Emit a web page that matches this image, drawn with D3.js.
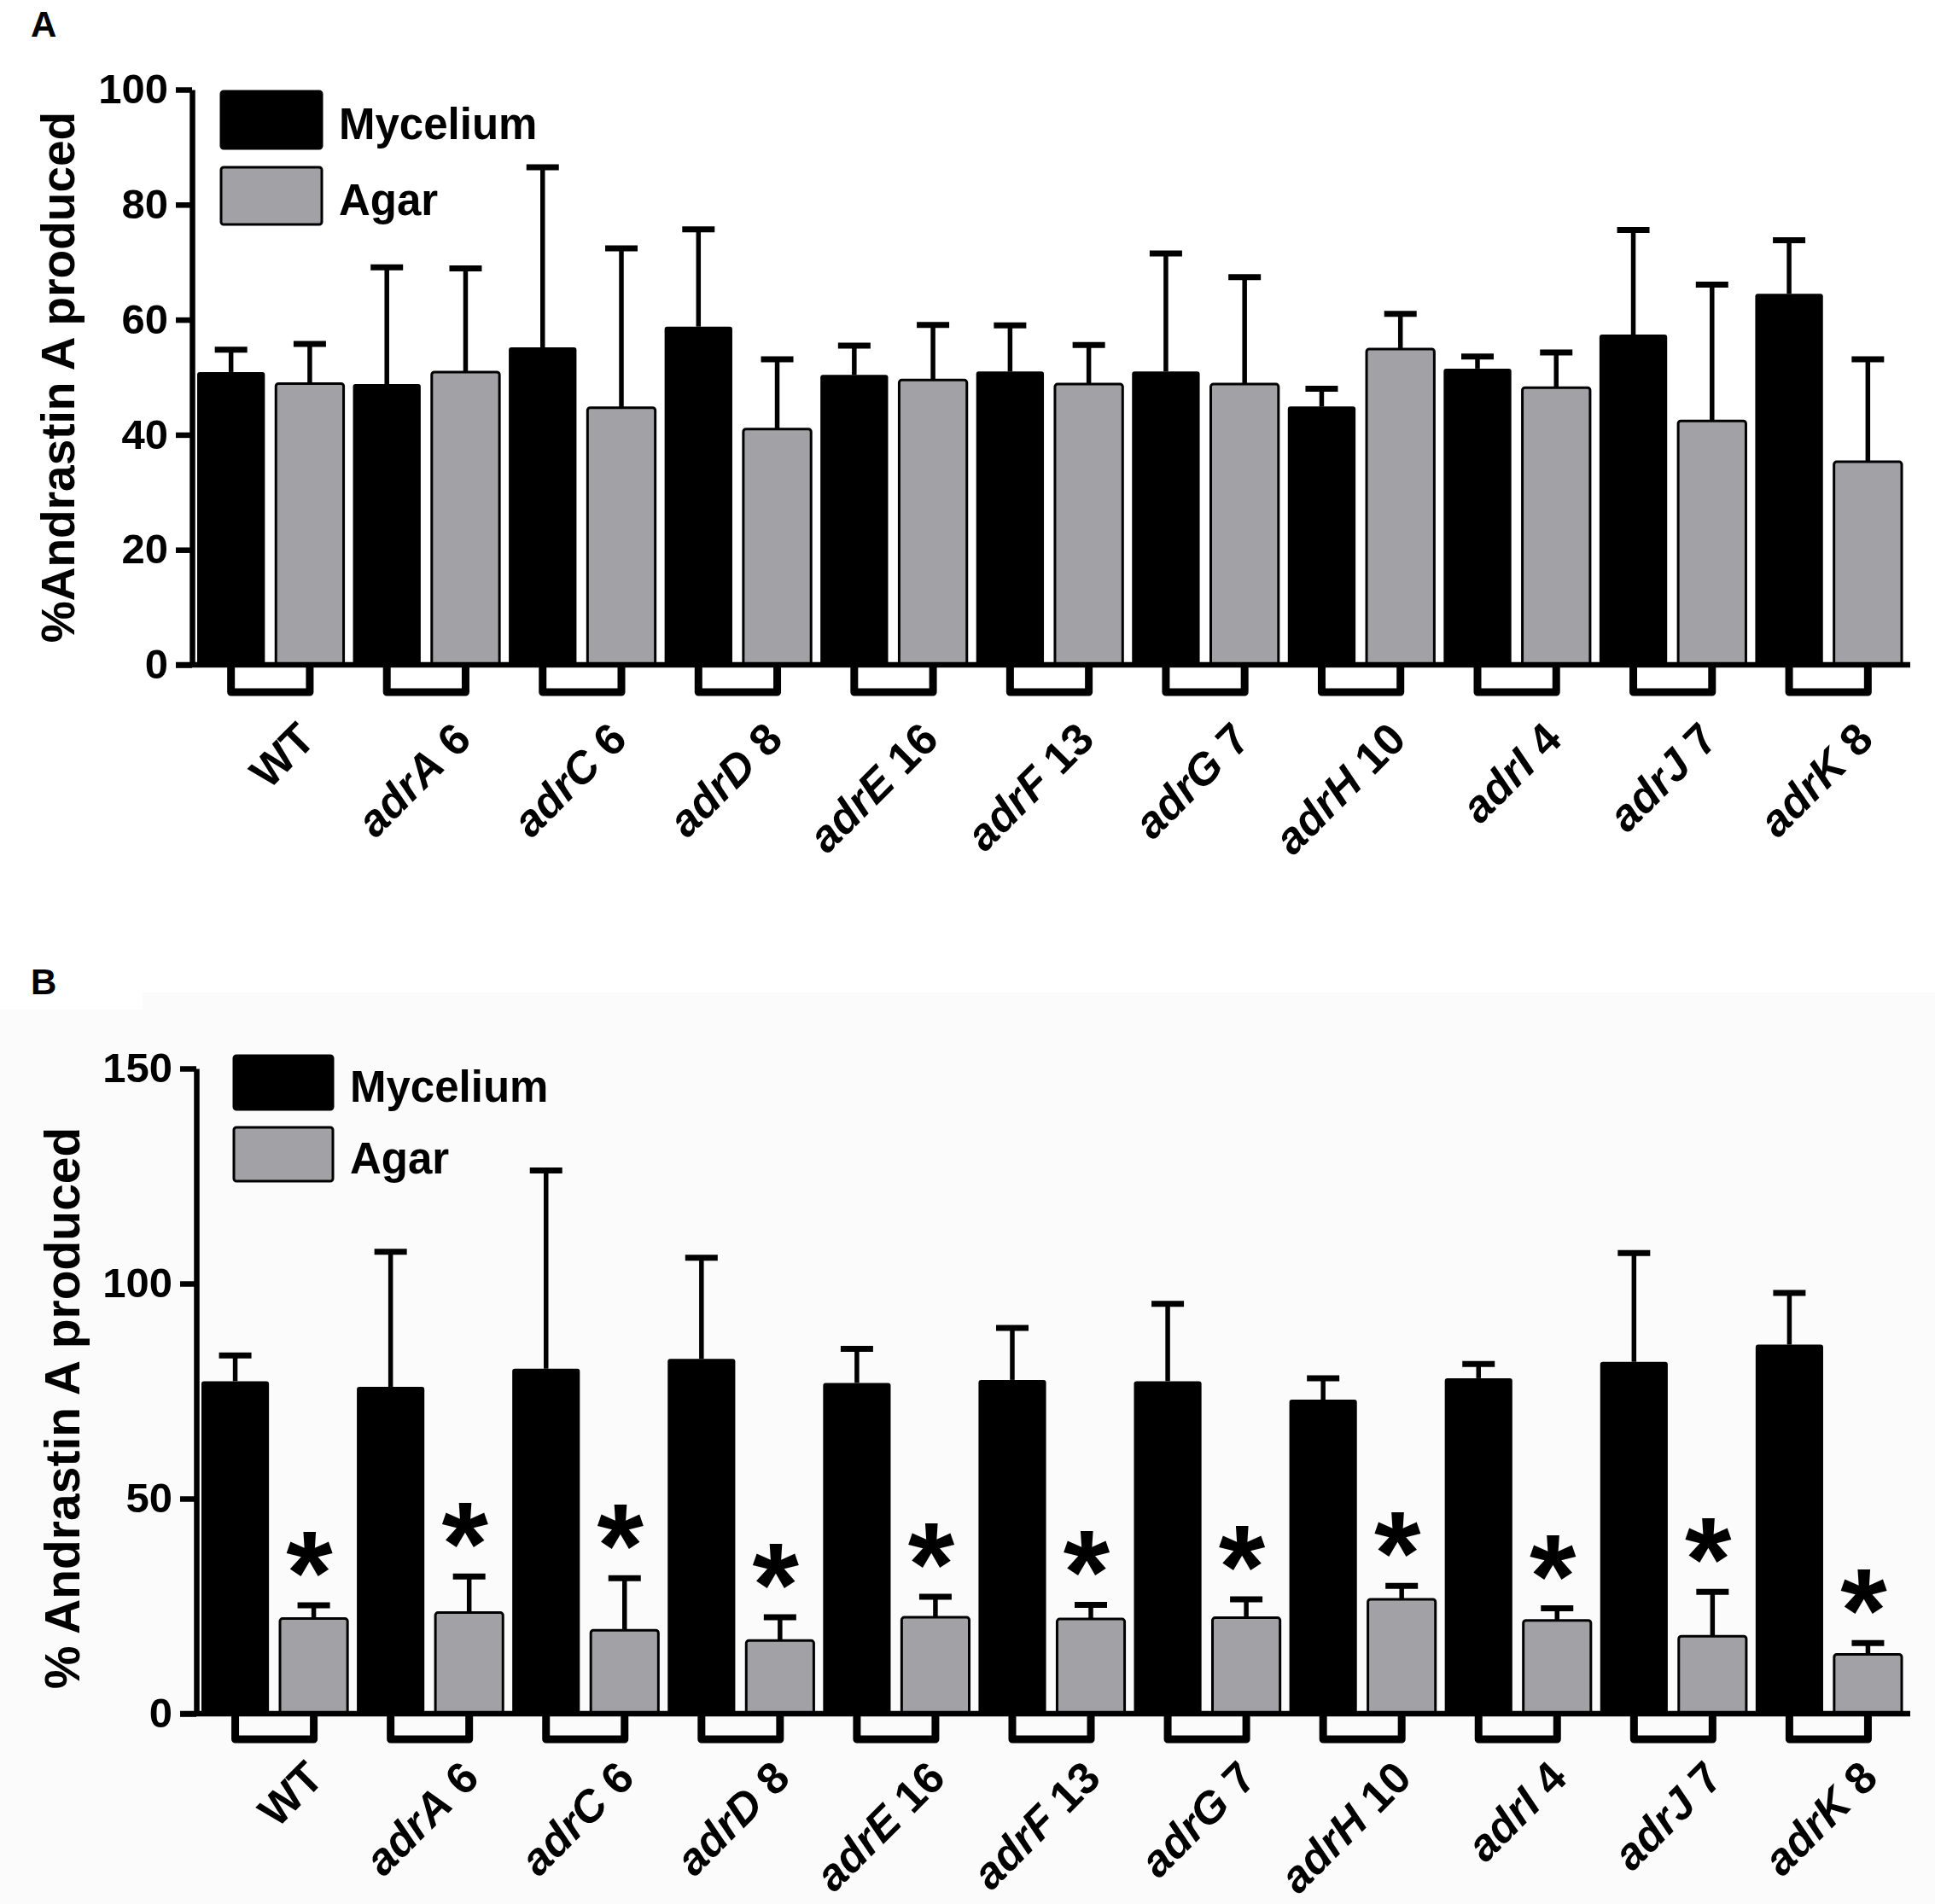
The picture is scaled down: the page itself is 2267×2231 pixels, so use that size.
<!DOCTYPE html>
<html>
<head>
<meta charset="utf-8">
<script src="https://cdn.jsdelivr.net/npm/d3@7"></script>
<style>
  body { margin: 0; background: #fff; }
  svg { display: block; font-family: "Liberation Sans", Arial, Helvetica, sans-serif; font-weight: bold; }
</style>
</head>
<body>
<div id="chart"></div>
<script>
// strain names: italic gene part + plain number part
const genes = ["WT", "adrA", "adrC", "adrD", "adrE", "adrF", "adrG", "adrH", "adrI", "adrJ", "adrK"];
const strainNums = ["", "6", "6", "8", "16", "13", "7", "10", "4", "7", "8"];
const series = ["Mycelium", "Agar"];

// panel A values (mean and upper SD)
const myceliumA = [50.9, 48.8, 55.2, 58.8, 50.4, 51.0, 51.0, 44.9, 51.5, 57.4, 64.5];
const myceliumAErr = [3.9, 20.3, 31.3, 16.9, 5.1, 8.0, 20.5, 3.1, 2.1, 18.2, 9.3];
const agarA = [48.9, 50.9, 44.7, 41.0, 49.5, 48.8, 48.8, 54.9, 48.2, 42.4, 35.3];
const agarAErr = [6.9, 18.0, 27.7, 12.1, 9.6, 6.8, 18.6, 6.1, 6.1, 23.7, 17.8];
const ticksA = [0, 20, 40, 60, 80, 100];

// panel B values
const myceliumB = [77.3, 76.0, 80.2, 82.5, 76.9, 77.6, 77.3, 73.0, 78.0, 81.8, 85.8];
const myceliumBErr = [6.0, 31.4, 46.1, 23.5, 7.9, 12.1, 18.0, 5.0, 3.3, 25.3, 12.0];
const agarB = [22.1, 23.5, 19.4, 17.0, 22.4, 22.0, 22.3, 26.6, 21.7, 18.0, 13.8];
const agarBErr = [3.1, 8.4, 12.1, 5.4, 4.8, 3.3, 4.3, 3.1, 2.8, 10.3, 2.6];
const ticksB = [0, 50, 100, 150];

const W = 2267, H = 2231;
const svg = d3.select("#chart").append("svg").attr("width", W).attr("height", H);

// faint grey backdrop behind panel B
svg.append("path")
    .attr("d", "M167,1163H2267V2231H0V1183H167Z")
    .attr("fill", "#fbfbfb");

function drawPanel(p) {
    const g = svg.append("g");

    // panel letter
    g.append("text")
        .attr("x", p.letterX).attr("y", p.letterY)
        .attr("font-size", 42)
        .text(p.letter);

    const y = d3.scaleLinear().domain(p.yDomain).range(p.yRange);
    const x0 = d3.scaleBand().domain(genes).range(p.xRange).paddingInner(0.06);
    const x1 = d3.scaleBand().domain(series).range([0, x0.bandwidth()]).paddingInner(0.14);

    const rows = genes.map((gname, i) => ({
        gene: gname,
        num: strainNums[i],
        vals: [
            { key: "Mycelium", mean: p.myc[i], err: p.mycErr[i] },
            { key: "Agar", mean: p.agar[i], err: p.agarErr[i] }
        ]
    }));

    const grp = g.selectAll("g.grp")
        .data(rows)
        .enter()
        .append("g")
        .attr("class", "grp")
        .attr("transform", d => `translate(${x0(d.gene)},0)`);

    // error bars (upper only) drawn first so bars sit on top of the stem
    const eb = grp.selectAll("g.err")
        .data(d => d.vals)
        .enter()
        .append("g")
        .attr("class", "err");
    eb.append("line")
        .attr("x1", d => x1(d.key) + x1.bandwidth() / 2)
        .attr("x2", d => x1(d.key) + x1.bandwidth() / 2)
        .attr("y1", d => y(d.mean))
        .attr("y2", d => y(d.mean + d.err))
        .attr("stroke", "#000").attr("stroke-width", 5.5);
    eb.append("line")
        .attr("x1", d => x1(d.key) + x1.bandwidth() / 2 - 19)
        .attr("x2", d => x1(d.key) + x1.bandwidth() / 2 + 19)
        .attr("y1", d => y(d.mean + d.err))
        .attr("y2", d => y(d.mean + d.err))
        .attr("stroke", "#000").attr("stroke-width", 7);

    // bars
    grp.selectAll("rect")
        .data(d => d.vals)
        .enter()
        .append("rect")
        .attr("x", d => x1(d.key))
        .attr("y", d => y(d.mean))
        .attr("width", x1.bandwidth())
        .attr("height", d => y(0) - y(d.mean))
        .attr("rx", 3)
        .attr("fill", d => d.key === "Mycelium" ? "#000" : "#a2a2a6")
        .attr("stroke", "#000")
        .attr("stroke-width", d => d.key === "Mycelium" ? 0 : 3);

    // significance stars over agar bars
    if (p.stars) {
        grp.append("text")
            .attr("x", x1("Agar") + x1.bandwidth() / 2 - 5)
            .attr("y", d => y(d.vals[1].mean + d.vals[1].err) + 10)
            .attr("text-anchor", "middle")
            .attr("font-size", 140)
            .text("*");
    }

    // bracket under each pair (GraphPad style)
    const bx1 = x1("Mycelium") + x1.bandwidth() / 2;
    const bx2 = x1("Agar") + x1.bandwidth() / 2;
    const by0 = y(0), by1 = y(0) + p.bracketDepth;
    grp.append("path")
        .attr("d", `M${bx1},${by0}V${by1}H${bx2}V${by0}`)
        .attr("fill", "none")
        .attr("stroke", "#000")
        .attr("stroke-width", 9)
        .attr("stroke-linejoin", "round");

    // x axis line, starts at the 0 tick end
    g.append("line")
        .attr("x1", p.axisX - 19).attr("x2", p.xRange[1] + 10)
        .attr("y1", y(0)).attr("y2", y(0))
        .attr("stroke", "#000").attr("stroke-width", 6.5);

    // y axis
    const yAxis = g.append("g")
        .attr("transform", `translate(${p.axisX},0)`)
        .call(d3.axisLeft(y).tickValues(p.ticks).tickSize(19).tickSizeOuter(0).tickPadding(9));
    yAxis.select(".domain").attr("stroke", "#000").attr("stroke-width", 6.5);
    yAxis.selectAll(".tick line").attr("stroke", "#000").attr("stroke-width", 6.5);
    yAxis.selectAll(".tick text")
        .attr("fill", "#000")
        .attr("font-size", 49)
        .attr("font-weight", "bold")
        .attr("font-family", "Liberation Sans, Arial, sans-serif");

    // y title
    g.append("text")
        .attr("transform", `translate(${p.titleX},${p.titleY}) rotate(-90)`)
        .attr("text-anchor", "middle")
        .attr("font-size", p.titleSize)
        .text(p.title);

    // x labels, rotated
    const lab = g.selectAll("text.xl")
        .data(rows)
        .enter()
        .append("text")
        .attr("class", "xl")
        .attr("text-anchor", "end")
        .attr("font-size", 52)
        .attr("transform", d => `translate(${x0(d.gene) + x0.bandwidth() / 2 + p.labelDx},${y(0) + p.labelDy}) rotate(-45)`);
    lab.append("tspan")
        .attr("font-style", d => d.gene === "WT" ? "normal" : "italic")
        .text(d => d.gene);
    lab.filter(d => d.num !== "")
        .append("tspan")
        .text(d => " " + d.num);

    // legend
    const lg = g.append("g");
    series.forEach((s, i) => {
        const top = p.legend.y + i * (p.legend.h + p.legend.gap);
        lg.append("rect")
            .attr("x", p.legend.x).attr("y", top)
            .attr("width", p.legend.w).attr("height", p.legend.h)
            .attr("rx", 3)
            .attr("fill", s === "Mycelium" ? "#000" : "#a2a2a6")
            .attr("stroke", "#000").attr("stroke-width", 3);
        lg.append("text")
            .attr("x", p.legend.x + p.legend.w + 20)
            .attr("y", top + p.legend.h / 2 + p.legend.base)
            .attr("font-size", 51)
            .text(s);
    });
}

drawPanel({
    letter: "A", letterX: 36, letterY: 43,
    yDomain: [0, 100], yRange: [779, 105], ticks: ticksA,
    axisX: 225, xRange: [231, 2228], bracketDepth: 32,
    title: "%Andrastin A produced", titleX: 87, titleY: 442, titleSize: 55,
    labelDx: 55, labelDy: 90,
    legend: { x: 259, y: 107, w: 118, h: 67, gap: 22, base: 22 },
    myc: myceliumA, mycErr: myceliumAErr, agar: agarA, agarErr: agarAErr,
    stars: false
});

drawPanel({
    letter: "B", letterX: 36, letterY: 1165,
    yDomain: [0, 150], yRange: [2008, 1252], ticks: ticksB,
    axisX: 230, xRange: [236, 2228], bracketDepth: 30,
    title: "% Andrastin A produced", titleX: 93, titleY: 1650, titleSize: 57,
    labelDx: 60, labelDy: 78,
    legend: { x: 274, y: 1237, w: 116, h: 63, gap: 21, base: 22 },
    myc: myceliumB, mycErr: myceliumBErr, agar: agarB, agarErr: agarBErr,
    stars: true
});
</script>
</body>
</html>
